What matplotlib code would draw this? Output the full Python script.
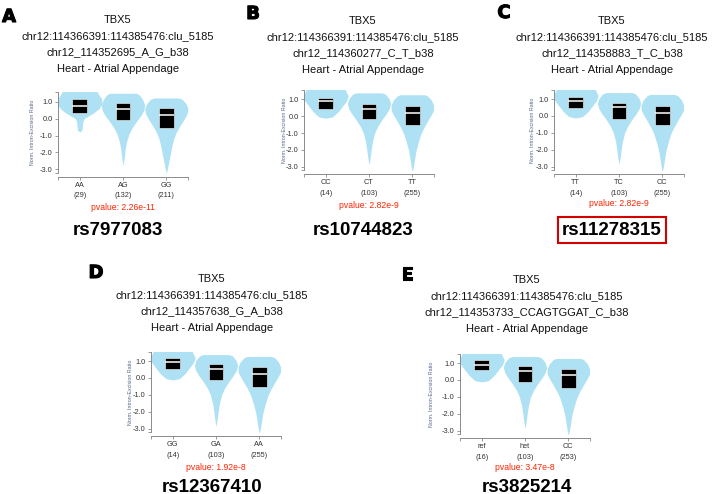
import matplotlib
matplotlib.use('Agg')
import matplotlib.pyplot as plt
import matplotlib.patheffects as pe

plt.rcParams['font.family'] = ['Liberation Sans', 'DejaVu Sans']

W, H = 714, 494

# ---- data ----
GENE = 'TBX5'
CLUSTER = 'chr12:114366391:114385476:clu_5185'
TISSUE = 'Heart - Atrial Appendage'

A_VARIANT = 'chr12_114352695_A_G_b38'
A_GENOS = ['AA', 'AG', 'GG']
A_COUNTS = [29, 132, 211]
A_Q1 = [0.34, -0.10, -0.56]
A_MED = [0.74, 0.54, 0.20]
A_Q3 = [1.14, 0.90, 0.60]
A_PVAL = '2.26e-11'
A_RSID = 'rs7977083'

B_VARIANT = 'chr12_114360277_C_T_b38'
B_GENOS = ['CC', 'CT', 'TT']
B_COUNTS = [14, 103, 255]
B_Q1 = [0.42, -0.15, -0.54]
B_MED = [0.90, 0.42, 0.19]
B_Q3 = [1.10, 0.73, 0.58]
B_PVAL = '2.82e-9'
B_RSID = 'rs10744823'

C_VARIANT = 'chr12_114358883_T_C_b38'
C_GENOS = ['TT', 'TC', 'CC']
C_COUNTS = [14, 103, 255]
C_Q1 = [0.44, -0.20, -0.54]
C_MED = [0.90, 0.52, 0.20]
C_Q3 = [1.10, 0.74, 0.60]
C_PVAL = '2.82e-9'
C_RSID = 'rs11278315'

D_VARIANT = 'chr12_114357638_G_A_b38'
D_GENOS = ['GG', 'GA', 'AA']
D_COUNTS = [14, 103, 255]
D_Q1 = [0.50, -0.14, -0.54]
D_MED = [0.92, 0.52, 0.26]
D_Q3 = [1.16, 0.82, 0.66]
D_PVAL = '1.92e-8'
D_RSID = 'rs12367410'

E_VARIANT = 'chr12_114353733_CCAGTGGAT_C_b38'
E_GENOS = ['ref', 'het', 'CC']
E_COUNTS = [16, 103, 253]
E_Q1 = [0.56, -0.10, -0.50]
E_MED = [0.86, 0.52, 0.30]
E_Q3 = [1.16, 0.82, 0.66]
E_PVAL = '3.47e-8'
E_RSID = 'rs3825214'

# violin outlines: levels and half widths (category units)
A_PROF_Y = [[1.7, 1.5, 1.2, 0.9, 0.6, 0.35, 0.15, 0.0, -0.2, -0.5, -0.7, -0.78],
            [1.5, 1.4, 1.1, 0.8, 0.5, 0.2, -0.1, -0.5, -0.9, -1.3, -1.8, -2.3, -2.8],
            [1.22, 1.15, 0.9, 0.6, 0.3, 0.0, -0.4, -0.8, -1.2, -1.6, -2.0, -2.5, -2.9, -3.25]]
A_PROF_W = [[0.38, 0.42, 0.5, 0.52, 0.45, 0.33, 0.2, 0.1, 0.07, 0.06, 0.05, 0.0],
            [0.3, 0.38, 0.46, 0.5, 0.48, 0.42, 0.33, 0.22, 0.14, 0.09, 0.05, 0.03, 0.0],
            [0.28, 0.36, 0.45, 0.5, 0.48, 0.42, 0.32, 0.23, 0.17, 0.13, 0.1, 0.06, 0.03, 0.0]]
B_PROF_Y = [[1.7, 1.5, 1.2, 0.9, 0.6, 0.3, 0.1, -0.05, -0.12],
            [1.38, 1.3, 1.05, 0.75, 0.45, 0.15, -0.2, -0.6, -1.0, -1.5, -2.0, -2.5, -2.88],
            [1.27, 1.2, 0.95, 0.65, 0.35, 0.05, -0.3, -0.7, -1.1, -1.6, -2.1, -2.6, -3.0, -3.3]]
B_PROF_W = [[0.44, 0.46, 0.52, 0.48, 0.39, 0.3, 0.22, 0.15, 0.0],
            [0.3, 0.38, 0.46, 0.5, 0.47, 0.4, 0.3, 0.2, 0.13, 0.08, 0.05, 0.025, 0.0],
            [0.28, 0.35, 0.44, 0.49, 0.49, 0.43, 0.35, 0.26, 0.19, 0.13, 0.08, 0.05, 0.025, 0.0]]

YTICKS = [1, 0, -1, -2, -3]
YTICK_LABELS = ['1.0', '0.0', '-1.0', '-2.0', '-3.0']

# ---- layout (pixels) ----
# letter, label xy, axes left, y of 1.0 tick, title centre x, first title line y,
# pvalue y, rsid y, ylabel offset
layout = [
    ('A', (9, 17), 58, 101.7, 118, 20, 208, 230, 25),
    ('B', (253, 14), 304, 99.3, 363, 21, 205, 230, 19),
    ('C', (504, 13), 554, 99.0, 612, 21, 203, 230, 22),
    ('D', (96, 273), 151, 361.0, 212, 279, 467, 487, 20),
    ('E', (407, 275), 460, 363.0, 527, 280, 468, 487, 29),
]
panels = [
    (A_VARIANT, A_GENOS, A_COUNTS, A_Q1, A_MED, A_Q3, A_PVAL, A_RSID, A_PROF_Y, A_PROF_W),
    (B_VARIANT, B_GENOS, B_COUNTS, B_Q1, B_MED, B_Q3, B_PVAL, B_RSID, B_PROF_Y, B_PROF_W),
    (C_VARIANT, C_GENOS, C_COUNTS, C_Q1, C_MED, C_Q3, C_PVAL, C_RSID, B_PROF_Y, B_PROF_W),
    (D_VARIANT, D_GENOS, D_COUNTS, D_Q1, D_MED, D_Q3, D_PVAL, D_RSID, B_PROF_Y, B_PROF_W),
    (E_VARIANT, E_GENOS, E_COUNTS, E_Q1, E_MED, E_Q3, E_PVAL, E_RSID, B_PROF_Y, B_PROF_W),
]

VIOLIN = '#aee1f3'
YLO, YHI = -3.2, 1.55
UNIT = 16.9  # px per y unit
AX_W = 130


def fx(px):
    return px / W


def fy(py):
    return 1 - py / H


fig = plt.figure(figsize=(W / 100, H / 100), dpi=100)

for lay, pan in zip(layout, panels):
    letter, lxy, left, y1, tcx, ty, py, ry, yoff = lay
    variant, genos, counts, q1, med, q3, pval, rsid, prof_y, prof_w = pan

    top = y1 - (YHI - 1) * UNIT
    bot = y1 + (1 - YLO) * UNIT
    ax = fig.add_axes([fx(left), fy(bot), AX_W / W, (bot - top) / H])

    for i in range(len(genos)):
        ys = prof_y[i]
        ws = prof_w[i]
        ax.fill_betweenx(ys, [i - w for w in ws], [i + w for w in ws],
                         color=VIOLIN, lw=0)
    ax.bar(range(len(genos)), [b - a for a, b in zip(q1, q3)], bottom=q1,
           width=0.34, color='black', edgecolor='white', lw=0.4)
    ax.hlines(med, [i - 0.17 for i in range(len(genos))],
              [i + 0.17 for i in range(len(genos))], color='white', lw=1.1)

    ax.set_xlim(-0.5, 2.5)
    ax.set_ylim(YLO, YHI)
    for s in ['top', 'right']:
        ax.spines[s].set_visible(False)
    ax.spines['bottom'].set_position(('outward', 2.8))
    for s in ['left', 'bottom']:
        ax.spines[s].set_color('#8a8a8a')
        ax.spines[s].set_linewidth(0.7)

    ax.set_yticks(YTICKS)
    ax.set_yticklabels(YTICK_LABELS)
    ax.set_yticks([YLO, YHI], minor=True)
    ax.set_xticks(range(len(genos)))
    ax.set_xticklabels(['%s\n(%d)' % (g, c) for g, c in zip(genos, counts)],
                       linespacing=1.7)
    ax.set_xticks([-0.5, 2.5], minor=True)
    ax.tick_params(which='both', direction='out', length=2.3, width=0.6,
                   color='#8a8a8a', labelsize=5.3, labelcolor='#333333', pad=1.5)
    ax.set_facecolor('none')

    ax.text(-yoff / AX_W * 3 - 0.5, (YLO + YHI) / 2, 'Norm. Intron-Excision Ratio',
            rotation=90, ha='center', va='center', fontsize=3.8, color='#56648a')

    # texts around the plot
    fig.text(fx(lxy[0]), fy(lxy[1]), letter, ha='center', va='center',
             fontsize=13, fontweight='bold', color='black', family='DejaVu Sans',
             path_effects=[pe.withStroke(linewidth=0.8, foreground='black')])
    for k, line in enumerate([GENE, CLUSTER, variant, TISSUE]):
        fig.text(fx(tcx), fy(ty + k * 16.3), line, ha='center', va='center',
                 fontsize=8, color='#111111')
    fig.text(fx(left + AX_W / 2), fy(py), 'pvalue: ' + pval, ha='center',
             va='center', fontsize=6.2, color='#ff2200')
    if letter == 'C':
        fig.text(fx(tcx), fy(ry), rsid, ha='center', va='center',
                 fontsize=13.5, fontweight='bold', color='black',
                 bbox=dict(boxstyle='square,pad=0.22', fc='none',
                           ec='#d40000', lw=1.5))
    else:
        fig.text(fx(tcx), fy(ry), rsid, ha='center', va='center',
                 fontsize=13.5, fontweight='bold', color='black')

fig.savefig('out.png', dpi=100)
